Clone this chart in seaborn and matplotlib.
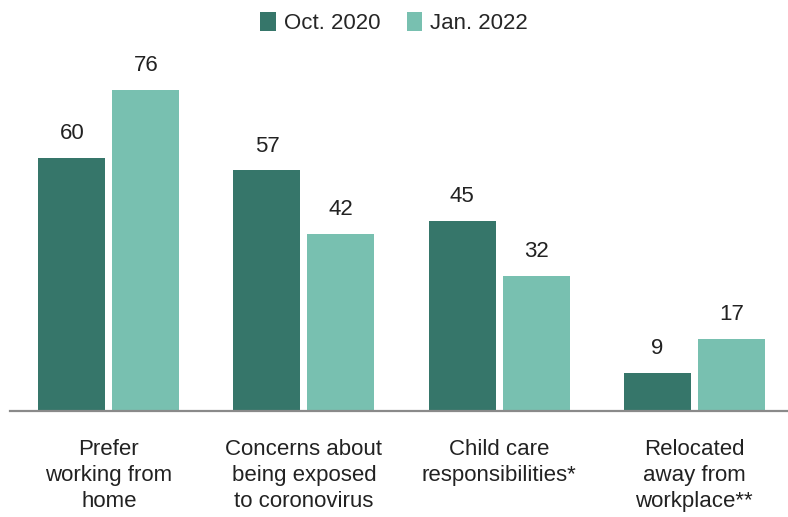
import matplotlib
matplotlib.use("Agg")
import matplotlib.pyplot as plt
import seaborn as sns
import pandas as pd

categories = [
    "Prefer\nworking from\nhome",
    "Concerns about\nbeing exposed\nto coronovirus",
    "Child care\nresponsibilities*",
    "Relocated\naway from\nworkplace**",
]
series = ["Oct. 2020", "Jan. 2022"]
oct_2020 = [60, 57, 45, 9]
jan_2022 = [76, 42, 32, 17]
colors = ["#36766a", "#78c0b0"]

df = pd.DataFrame({
    "reason": categories * 2,
    "survey": [series[0]] * 4 + [series[1]] * 4,
    "pct": oct_2020 + jan_2022,
})

sns.set_theme(style="white")
plt.rcParams["font.family"] = ["Liberation Sans", "DejaVu Sans"]

fig = plt.figure(figsize=(7.88, 5.17), dpi=100)
ax = fig.add_axes([0.0127, 0.205, 0.9873, 0.653])

sns.barplot(data=df, x="reason", y="pct", hue="survey", palette=colors,
            width=0.758, gap=0.094, ax=ax, saturation=1, legend=True,
            edgecolor="none")

for cont in ax.containers:
    ax.bar_label(cont, fmt="%d", padding=10, fontsize=16, color="#222222")

ax.set_ylim(0, 80)
ax.set_xlim(-0.506, 3.48)
ax.set_xlabel("")
ax.set_ylabel("")
ax.set_yticks([])
ax.tick_params(axis="x", length=0, pad=20, labelsize=16, colors="#222222")
for lab in ax.get_xticklabels():
    lab.set_linespacing(1.33)
for s in ["top", "left", "right"]:
    ax.spines[s].set_visible(False)
ax.spines["bottom"].set_color("#8a8a8a")
ax.spines["bottom"].set_linewidth(1.6)

handles, labels = ax.get_legend_handles_labels()
ax.legend(handles, labels, loc="upper center", bbox_to_anchor=(0.5, 1.0),
          bbox_transform=fig.transFigure, ncol=2, frameon=False,
          fontsize=16, handlelength=0.7, handleheight=0.9,
          handletextpad=0.35, columnspacing=1.2, borderaxespad=0.15)

fig.savefig("out.png", dpi=100)
